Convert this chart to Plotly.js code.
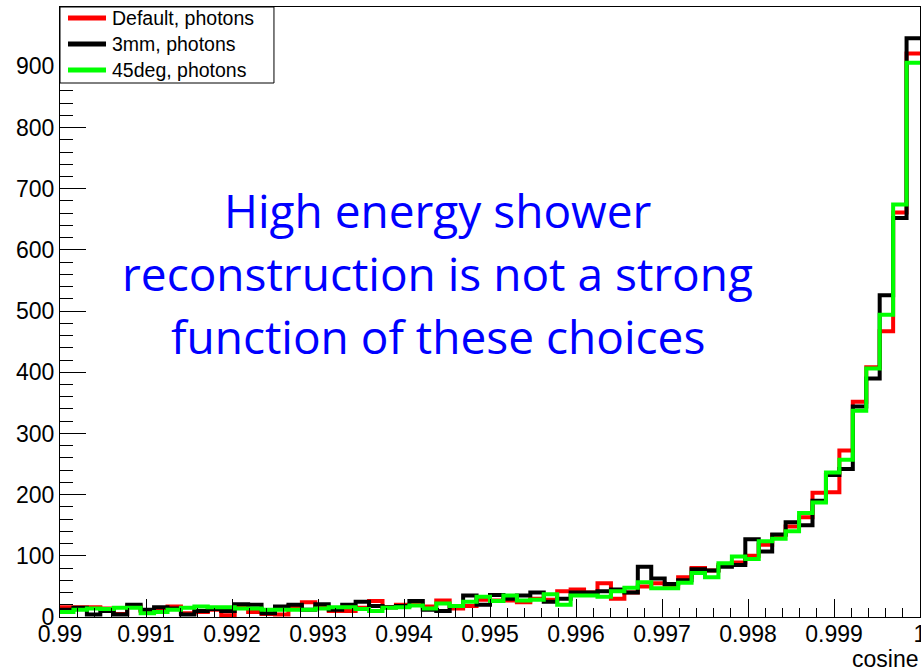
<!DOCTYPE html>
<html>
<head>
<meta charset="utf-8">
<script src="https://cdn.plot.ly/plotly-3.0.1.min.js"></script>
<style>html,body{margin:0;padding:0;background:#fff;}#chart{width:921px;height:671px;}</style>
</head>
<body>
<div id="chart"></div>
<script>
// Histogram binning (cosine axis)
const binLow = 0.99;
const binHigh = 1.0;
const nBins = 64;

const seriesNames = ["Default, photons", "3mm, photons", "45deg, photons"];
const seriesColors = ["#ff0000", "#000000", "#00ff00"];

// Bin contents
const defaultPhotons = [16, 16, 16, 14, 5, 17, 10, 12, 17, 6, 8, 12, 3, 18, 8, 5,
  4, 18, 24, 16, 10, 10, 15, 26, 16, 20, 20, 17, 27, 14, 18, 28,
  27, 27, 24, 30, 28, 42, 45, 40, 55, 30, 40, 50, 55, 50, 65, 80,
  76, 85, 89, 100, 118, 134, 148, 163, 203, 204, 272, 352, 408, 467, 661, 921];
const mm3Photons = [12, 15, 4, 10, 4, 20, 12, 16, 14, 4, 10, 13, 10, 21, 20, 6,
  17, 20, 12, 21, 12, 20, 25, 18, 16, 18, 26, 12, 10, 18, 35, 20,
  36, 30, 35, 40, 25, 30, 40, 40, 42, 45, 40, 82, 63, 54, 60, 78,
  76, 82, 85, 127, 107, 135, 155, 150, 190, 232, 242, 344, 390, 526, 652, 946];
const deg45Photons = [8, 12, 14, 13, 15, 15, 6, 8, 12, 15, 17, 16, 16, 14, 14, 12,
  12, 12, 12, 14, 16, 16, 13, 10, 15, 16, 19, 14, 22, 18, 25, 33,
  26, 35, 27, 28, 37, 20, 35, 35, 33, 42, 48, 57, 47, 47, 56, 72,
  65, 88, 99, 95, 124, 128, 140, 170, 187, 236, 257, 337, 406, 494, 674, 906];

const overlayLines = ["High energy shower", "reconstruction is not a strong", "function of these choices"];
const xTitle = "cosine";

const binWidth = (binHigh - binLow) / nBins;
const edges = [];
for (let i = 0; i <= nBins; i++) edges.push(binLow + i * binWidth);

function stepTrace(vals, name, color) {
  return {
    type: "scatter", mode: "lines", name: name,
    x: edges, y: vals.concat([vals[vals.length - 1]]),
    line: {shape: "hv", color: color, width: 4},
    hoverinfo: "skip", showlegend: false
  };
}

const seriesValues = [defaultPhotons, mm3Photons, deg45Photons];
const data = seriesValues.map((v, i) => stepTrace(v, seriesNames[i], seriesColors[i]));

const labelFont = {family: "Liberation Sans, Arial, sans-serif", size: 23, color: "#000"};
const legendFont = {family: "Liberation Sans, Arial, sans-serif", size: 19.5, color: "#000"};
const overlayFont = {family: "Open Sans, sans-serif", size: 46, color: "#0000ff"};
const overlayY = [0.667, 0.564, 0.461];

const annotations = overlayLines.map((t, i) => ({
  text: t, xref: "paper", yref: "paper", x: 0.439, y: overlayY[i],
  xanchor: "center", yanchor: "middle", showarrow: false, font: overlayFont
}));
annotations.push({
  text: xTitle, xref: "paper", yref: "paper", x: 1, y: 0,
  xanchor: "right", yanchor: "middle", yshift: -42, showarrow: false, font: labelFont
});

// Legend box (drawn as layout shapes + text, ROOT TLegend style)
const legendRowY = [0.982, 0.9393, 0.8967];
const shapes = [{
  type: "rect", xref: "paper", yref: "paper", x0: 0, x1: 0.2488, y0: 0.8754, y1: 1,
  line: {color: "#000", width: 1}, fillcolor: "#fff", layer: "above"
}];
seriesNames.forEach((n, i) => {
  shapes.push({
    type: "line", xref: "paper", yref: "paper", x0: 0.0093, x1: 0.0535,
    y0: legendRowY[i], y1: legendRowY[i],
    line: {color: seriesColors[i], width: 5}, layer: "above"
  });
  annotations.push({
    text: n, xref: "paper", yref: "paper", x: 0.0581, y: legendRowY[i],
    xanchor: "left", yanchor: "middle", showarrow: false, font: legendFont
  });
});

const layout = {
  width: 921, height: 671,
  margin: {l: 60, r: 1, t: 7, b: 54, pad: 0},
  paper_bgcolor: "#fff", plot_bgcolor: "#fff",
  showlegend: false,
  xaxis: {
    range: [binLow, binHigh], dtick: 0.001, tick0: 0.99,
    ticks: "inside", ticklen: 18, tickwidth: 1, tickcolor: "#000",
    minor: {dtick: 0.0002, ticks: "inside", ticklen: 9, tickwidth: 1, tickcolor: "#000", showgrid: false},
    showgrid: false, zeroline: false,
    showline: true, linecolor: "#000", linewidth: 1, mirror: true,
    tickfont: labelFont, ticklabeloverflow: "allow", ticklabelstandoff: -4, fixedrange: true
  },
  yaxis: {
    range: [0, 997], dtick: 100, tick0: 0,
    ticks: "inside", ticklen: 26, tickwidth: 1, tickcolor: "#000",
    minor: {dtick: 20, ticks: "inside", ticklen: 13, tickwidth: 1, tickcolor: "#000", showgrid: false},
    showgrid: false, zeroline: false,
    showline: true, linecolor: "#000", linewidth: 1, mirror: true,
    tickfont: labelFont, fixedrange: true
  },
  shapes: shapes,
  annotations: annotations
};

Plotly.newPlot("chart", data, layout, {displayModeBar: false, staticPlot: true});
</script>
</body>
</html>
